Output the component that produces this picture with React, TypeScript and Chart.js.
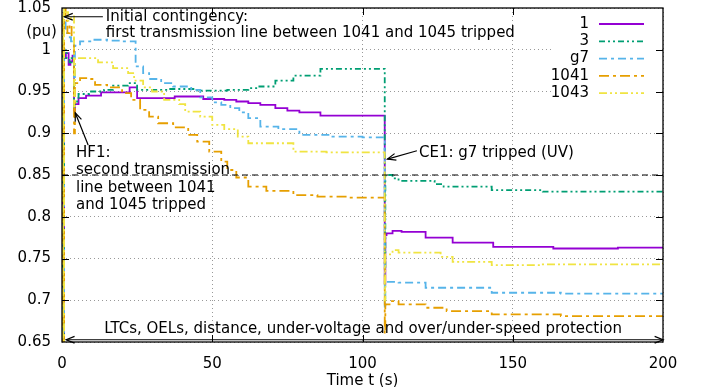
import React, { useEffect, useRef } from 'react';
import { Chart, registerables } from 'chart.js';

Chart.register(...registerables);

const FAMILY = '"DejaVu Sans", sans-serif';

// Axis ticks
const xTicks = [0, 50, 100, 150, 200];
const yTicks = [0.65, 0.7, 0.75, 0.8, 0.85, 0.9, 0.95, 1, 1.05];
const yTickLabels = ['0.65', '0.7', '0.75', '0.8', '0.85', '0.9', '0.95', '1', '1.05'];

// Series labels
const seriesLabels = ['1', '3', 'g7', '1041', '1043'];

// Series "1" (bus voltage, pu) – step events: from time t the value is v
const t1 = [0, 0.3, 0.7, 1.3, 2.2, 2.8, 3.5, 4.0, 4.3, 5.5, 8, 13, 22.5, 25, 37.5, 47, 54, 58, 62, 66, 71, 75, 79, 86, 107.4, 107.6, 108, 110, 113, 121, 130, 143.5, 163.5, 185, 200];
const v1 = [1.0, 0.45, 0.99, 0.996, 0.982, 0.986, 0.993, 0.927, 0.935, 0.942, 0.945, 0.949, 0.955, 0.942, 0.944, 0.941, 0.94, 0.938, 0.936, 0.934, 0.93, 0.927, 0.925, 0.921, 0.72, 0.778, 0.78, 0.783, 0.782, 0.775, 0.769, 0.764, 0.762, 0.763, 0.764];

// Series "3"
const t3 = [0, 0.3, 0.7, 1.5, 2.5, 3.2, 4.0, 4.3, 5.5, 9, 14, 17, 22, 25, 35, 45, 55, 62, 65, 71, 77, 86, 107.4, 107.6, 110, 112, 124, 127, 143, 160, 200];
const v3 = [0.995, 0.45, 1.0, 0.99, 0.985, 0.99, 0.93, 0.938, 0.947, 0.95, 0.952, 0.957, 0.96, 0.952, 0.953, 0.951, 0.952, 0.954, 0.956, 0.963, 0.969, 0.977, 0.74, 0.85, 0.846, 0.843, 0.839, 0.836, 0.832, 0.83, 0.829];

// Series "g7"
const tG7 = [0, 0.3, 0.7, 1.2, 2, 3, 4.0, 4.3, 6, 10, 15, 20, 24.5, 27, 29, 33, 37, 43, 46, 50, 53, 56, 59, 62, 66, 72, 79, 90, 100, 107.4, 107.6, 112, 121, 143, 166, 200];
const vG7 = [1.01, 0.45, 1.04, 1.02, 1.015, 1.01, 0.96, 1.005, 1.01, 1.012, 1.011, 1.01, 0.98, 0.972, 0.965, 0.96, 0.956, 0.952, 0.943, 0.937, 0.934, 0.93, 0.925, 0.918, 0.908, 0.905, 0.898, 0.896, 0.895, 0.69, 0.722, 0.721, 0.715, 0.709, 0.708, 0.709];

// Series "1041"
const t1041 = [0, 0.3, 0.7, 1.2, 1.8, 2.5, 3.2, 4.0, 4.3, 6, 9, 11, 15, 20, 23, 26, 29, 32, 37, 42, 45, 49, 53, 55, 58, 62, 68, 77, 85, 95, 107.4, 107.6, 109, 112, 121, 128, 143, 166, 200];
const v1041 = [1.03, 0.4, 1.05, 1.035, 1.02, 1.03, 1.015, 0.9, 0.96, 0.966, 0.965, 0.958, 0.955, 0.948, 0.94, 0.928, 0.92, 0.912, 0.907, 0.898, 0.89, 0.878, 0.866, 0.856, 0.847, 0.836, 0.831, 0.826, 0.824, 0.823, 0.66, 0.695, 0.699, 0.695, 0.691, 0.687, 0.683, 0.681, 0.682];

// Series "1043"
const t1043 = [0, 0.3, 0.7, 1.2, 2, 3, 4.0, 4.3, 8, 12, 17, 22, 24, 27, 30, 34, 39, 41, 46, 50, 54, 58.5, 62, 77, 88, 107.4, 107.6, 110, 112, 126, 130, 143, 160, 200];
const v1043 = [1.04, 0.4, 1.08, 1.045, 1.035, 1.04, 0.93, 0.99, 0.99, 0.985, 0.978, 0.972, 0.963, 0.955, 0.95, 0.94, 0.935, 0.926, 0.92, 0.91, 0.905, 0.896, 0.888, 0.878, 0.877, 0.7, 0.755, 0.76, 0.757, 0.752, 0.746, 0.742, 0.743, 0.745];

// Reference threshold line
const refT = [0, 200];
const refV = [0.85, 0.85];

const pts = (t: number[], v: number[]) => t.map((x, i) => ({ x, y: v[i] }));

function drawArrow(ctx: CanvasRenderingContext2D, x1: number, y1: number, x2: number, y2: number, both = false) {
  ctx.beginPath();
  ctx.moveTo(x1, y1);
  ctx.lineTo(x2, y2);
  ctx.stroke();
  const head = (hx: number, hy: number, fx: number, fy: number) => {
    const a = Math.atan2(hy - fy, hx - fx);
    const L = 9;
    const w = 0.38;
    ctx.beginPath();
    ctx.moveTo(hx - L * Math.cos(a - w), hy - L * Math.sin(a - w));
    ctx.lineTo(hx, hy);
    ctx.lineTo(hx - L * Math.cos(a + w), hy - L * Math.sin(a + w));
    ctx.stroke();
  };
  head(x2, y2, x1, y1);
  if (both) head(x1, y1, x2, y2);
}

const overlayPlugin = {
  id: 'overlay',
  afterDraw(chart: any) {
    const ctx: CanvasRenderingContext2D = chart.ctx;
    const { left, right, top, bottom } = chart.chartArea;
    const xs = chart.scales.x;
    const ys = chart.scales.y;
    const px = (t: number) => xs.getPixelForValue(t);
    const py = (v: number) => ys.getPixelForValue(v);
    ctx.save();

    // Legend (key) box
    ctx.fillStyle = '#ffffff';
    ctx.fillRect(right - 110, top + 1, 109, 94);
    ctx.font = `15px ${FAMILY}`;
    ctx.textAlign = 'right';
    ctx.textBaseline = 'middle';
    let row = 0;
    chart.data.datasets.forEach((ds: any) => {
      if (!seriesLabels.includes(ds.label)) return;
      const yy = top + 16 + row * 17.3;
      ctx.fillStyle = '#000';
      ctx.fillText(ds.label, right - 74, yy);
      ctx.save();
      ctx.strokeStyle = ds.borderColor;
      ctx.lineWidth = ds.borderWidth;
      ctx.setLineDash(ds.borderDash || []);
      ctx.beginPath();
      ctx.moveTo(right - 64, yy);
      ctx.lineTo(right - 19, yy);
      ctx.stroke();
      ctx.restore();
      row++;
    });

    // Annotations
    ctx.fillStyle = '#000';
    ctx.strokeStyle = '#000';
    ctx.lineWidth = 1.2;
    ctx.setLineDash([]);
    ctx.textAlign = 'left';
    ctx.textBaseline = 'alphabetic';

    // Initial contingency
    drawArrow(ctx, px(13.6), py(1.0395), px(0.8), py(1.0395));
    ctx.fillText('Initial contingency:', px(14.6), py(1.0347));
    ctx.fillText('first transmission line between 1041 and 1045 tripped', px(14.6), py(1.0347) + 16.6);

    // HF1
    drawArrow(ctx, px(8.7), py(0.886), px(4.4), py(0.9245));
    const hfLines = ['HF1:', 'second transmission', 'line between 1041', 'and 1045 tripped'];
    hfLines.forEach((s, i) => ctx.fillText(s, px(4.66), py(0.8719) + i * 17.4));

    // CE1
    drawArrow(ctx, px(118.1), py(0.879), px(108.3), py(0.869));
    ctx.fillText('CE1: g7 tripped (UV)', px(118.8), py(0.8715));

    // Protection range
    drawArrow(ctx, px(1.4), py(0.6527), px(200), py(0.6527), true);
    ctx.textAlign = 'center';
    ctx.fillText('LTCs, OELs, distance, under-voltage and over/under-speed protection', px(100.2), py(0.6608));

    // y-axis unit
    ctx.textBaseline = 'middle';
    ctx.fillText('(pu)', 41.5, top + 24);

    // Frame and inward ticks
    ctx.lineWidth = 1.3;
    ctx.strokeRect(left, top, right - left, bottom - top);
    ctx.lineWidth = 1;
    const tl = 7;
    ctx.beginPath();
    xTicks.forEach((t) => {
      const x = Math.round(px(t)) + 0.5;
      if (t === xTicks[0] || t === xTicks[xTicks.length - 1]) return;
      ctx.moveTo(x, bottom); ctx.lineTo(x, bottom - tl);
      ctx.moveTo(x, top); ctx.lineTo(x, top + tl);
    });
    yTicks.forEach((v) => {
      const y = Math.round(py(v)) + 0.5;
      if (v === yTicks[0] || v === yTicks[yTicks.length - 1]) return;
      ctx.moveTo(left, y); ctx.lineTo(left + tl, y);
      ctx.moveTo(right, y); ctx.lineTo(right - tl, y);
    });
    ctx.stroke();
    ctx.restore();
  },
};

export default function App() {
  const ref = useRef<HTMLCanvasElement | null>(null);

  useEffect(() => {
    if (!ref.current) return;
    const mk = (label: string, t: number[], v: number[], color: string, dash: number[], order: number) => ({
      label,
      data: pts(t, v),
      borderColor: color,
      backgroundColor: color,
      borderWidth: 1.8,
      borderDash: dash,
      stepped: true,
      pointRadius: 0,
      fill: false,
      order,
    });
    const chart = new Chart(ref.current, {
      type: 'line',
      data: {
        datasets: [
          mk(seriesLabels[0], t1, v1, '#9400d3', [], 5),
          mk(seriesLabels[1], t3, v3, '#009e73', [6, 3, 2, 3, 2, 3], 4),
          mk(seriesLabels[2], tG7, vG7, '#56b4e9', [8, 4, 3, 4], 3),
          mk(seriesLabels[3], t1041, v1041, '#e69f00', [10, 4, 3, 4], 2),
          mk(seriesLabels[4], t1043, v1043, '#f0e442', [8, 3, 2, 3, 2, 3], 1),
          {
            label: '',
            data: pts(refT, refV),
            borderColor: '#000',
            borderWidth: 1.2,
            borderDash: [6, 4],
            pointRadius: 0,
            fill: false,
            order: 0,
          },
        ],
      },
      options: {
        animation: false,
        responsive: false,
        events: [],
        layout: { padding: { left: 0, right: 41, top: 8, bottom: 0 } },
        plugins: { legend: { display: false }, tooltip: { enabled: false } },
        scales: {
          x: {
            type: 'linear',
            min: 0,
            max: 200,
            afterBuildTicks: (s: any) => { s.ticks = xTicks.map((value) => ({ value })); },
            afterFit: (s: any) => { s.height = 45; s.paddingLeft = 0; s.paddingRight = 0; },
            ticks: {
              font: { family: FAMILY, size: 15, lineHeight: 1 },
              color: '#000',
              padding: 15,
              maxRotation: 0,
              autoSkip: false,
              callback: (val: any) => String(val),
            },
            grid: { color: '#999', lineWidth: 1, drawTicks: false },
            border: { display: false, dash: [1, 3] },
            title: {
              display: true,
              text: 'Time t (s)',
              color: '#000',
              font: { family: FAMILY, size: 15, lineHeight: 0.75 },
              padding: { top: 0, bottom: 0 },
            },
          },
          y: {
            type: 'linear',
            min: 0.65,
            max: 1.05,
            afterBuildTicks: (s: any) => { s.ticks = yTicks.map((value) => ({ value })); },
            afterFit: (s: any) => { s.width = 62; s.paddingTop = 0; s.paddingBottom = 0; },
            ticks: {
              font: { family: FAMILY, size: 15, lineHeight: 1 },
              color: '#000',
              padding: 11,
              autoSkip: false,
              callback: (val: any) => {
                const i = yTicks.findIndex((y) => Math.abs(y - val) < 1e-9);
                return i >= 0 ? yTickLabels[i] : '';
              },
            },
            grid: { color: '#999', lineWidth: 1, drawTicks: false },
            border: { display: false, dash: [1, 3] },
          },
        },
      },
      plugins: [overlayPlugin],
    } as any);
    return () => chart.destroy();
  }, []);

  return (
    <div style={{ position: 'absolute', left: 0, top: 0, width: 704, height: 387, background: '#fff' }}>
      <canvas ref={ref} width={704} height={387} />
    </div>
  );
}
